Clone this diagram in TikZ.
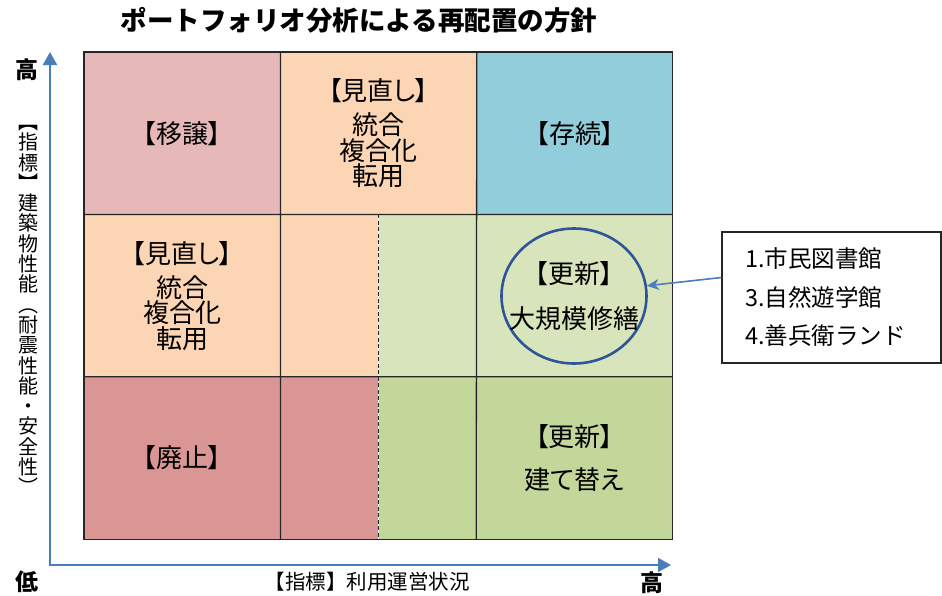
\documentclass[tikz,border=0pt]{standalone}
\usepackage{fontspec}
\setmainfont{Noto Sans CJK JP}
\newfontfamily\cellfont[RawFeature=+palt]{Noto Sans CJK JP}
\newfontfamily\vertfont[RawFeature=+vert]{Noto Sans CJK JP}
\usetikzlibrary{arrows.meta,positioning,shapes.geometric}

\definecolor{cellpink}{HTML}{E6B8B7}
\definecolor{cellpeach}{HTML}{FCD5B4}
\definecolor{cellblue}{HTML}{92CDDC}
\definecolor{cellred}{HTML}{DA9694}
\definecolor{celllime}{HTML}{D8E4BC}
\definecolor{cellgreen}{HTML}{C4D79B}
\definecolor{axisblue}{HTML}{4A7EBB}
\definecolor{ringblue}{HTML}{2F5597}

\tikzset{
  cell/.style={minimum width=196pt, minimum height=162pt, inner sep=0pt, align=center,
    font=\cellfont\fontsize{26}{25.5}\selectfont},
  half/.style={cell, minimum width=97.5pt},
  gridline/.style={draw=black!85, line width=1.3pt},
  axis/.style={draw=axisblue, line width=1.8pt, line join=miter,
    {Triangle[length=13pt,width=14pt]}-{Triangle[length=13pt,width=14pt]}},
  pointer/.style={draw=axisblue, line width=1.6pt, -{Stealth[length=12pt,width=11pt]}},
  ring/.style={ellipse, draw=ringblue, line width=2.6pt, minimum width=145pt, minimum height=135pt, inner sep=0pt},
  listbox/.style={draw=black!85, line width=1.3pt, fill=white, minimum height=131pt, text width=173pt,
    inner xsep=23pt, align=left, font=\fontsize{23.5}{38.5}\selectfont},
  axislabel/.style={font=\bfseries\fontsize{23}{24}\selectfont}
}

\begin{document}
\begin{tikzpicture}[x=1pt,y=-1pt,node distance=0pt]
  \useasboundingbox (0,0) rectangle (942,595);
  \node[font=\bfseries\fontsize{26.5}{28}\selectfont] (title) at (359,20) {ポートフォリオ分析による再配置の方針};
  % cells
  \node[cell,fill=cellpink,anchor=north west] (A) at (84,52) {【移譲】};
  \node[cell,fill=cellpeach,right=of A] (B) {【見直し】\\[8.5pt]統合\\複合化\\転用};
  \node[cell,fill=cellblue,right=of B] (C) {【存続】};
  \node[cell,fill=cellpeach,below=of A] (D) {【見直し】\\[8.5pt]統合\\複合化\\転用};
  \node[half,fill=cellpeach,right=of D] (E1) {};
  \node[half,fill=celllime,right=of E1] (E2) {};
  \node[cell,fill=celllime,right=of E2] (F) {};
  \node[cell,fill=cellred,below=of D] (G) {【廃止】};
  \node[half,fill=cellred,right=of G] (H1) {};
  \node[half,fill=cellgreen,right=of H1] (H2) {};
  \node[cell,fill=cellgreen,right=of H2] (I) {【更新】\\[17pt]建て替え};
  % grid
  \draw[gridline] (A.north west) rectangle (I.south east);
  \draw[gridline] (A.north east) -- (G.south east)
    (B.north east) -- (H2.south east)
    (D.north west) -- (F.north east)
    (G.north west) -- (I.north east);
  \draw[gridline,dash pattern=on 4pt off 2.5pt] (E1.north east) -- (H1.south east);
  % circle and list
  \node[ring] (ring) at (574,296) {};
  \node[cell,minimum width=0pt,minimum height=0pt] (ringtext) at (ring.center) {【更新】\\[19pt]大規模修繕};
  \node[listbox] (list) at (831.5,297.5) {1.市民図書館\\3.自然遊学館\\4.善兵衛ランド};
  \draw[pointer] ([yshift=20pt]list.west) -- (ring.8);
  % axes
  \coordinate (origin) at (50,565);
  \coordinate (ytip) at (50,52);
  \coordinate (xtip) at (671,565);
  \draw[axis] (ytip) -- (origin) -- (xtip);
  \node[axislabel] (yhigh) at (27,70) {高};
  \node[axislabel] (ylow) at (27,582) {低};
  \node[axislabel] (xhigh) at (652,583) {高};
  \node[font=\fontsize{20.5}{22}\selectfont] (xname) at (367,582) {【指標】利用運営状況};
  \node[font=\vertfont\fontsize{20}{20.3}\selectfont, align=center, inner sep=0pt] (yname) at (28,310)
    {【\\指\\標\\】\\建\\築\\物\\性\\能\\（\\耐\\震\\性\\能\\・\\安\\全\\性\\）};
\end{tikzpicture}
\end{document}
